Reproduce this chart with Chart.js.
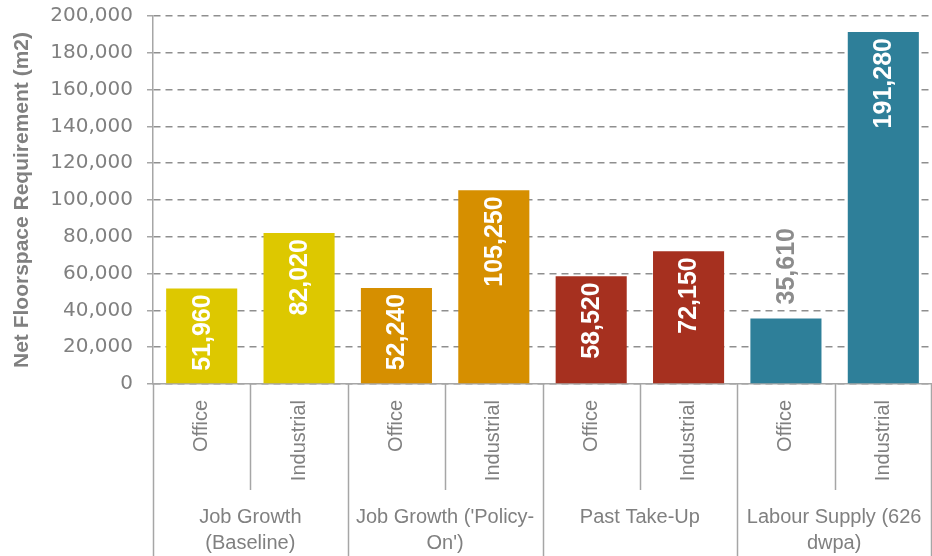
<!DOCTYPE html>
<html>
<head>
<meta charset="utf-8">
<script src="https://cdn.jsdelivr.net/npm/chart.js@4.4.1/dist/chart.umd.min.js"></script>
<style>
  html, body { margin: 0; padding: 0; background: #fff; }
  #wrap { width: 932px; height: 556px; position: relative; }
</style>
</head>
<body>
<div id="wrap"><canvas id="floorspaceChart"></canvas></div>
<script>
// Chart data
const groupLabels = [
    ['Job Growth', '(Baseline)'],
    ["Job Growth ('Policy-", "On')"],
    ['Past Take-Up'],
    ['Labour Supply (626', 'dwpa)']
];
const typeLabels = ['Office', 'Industrial'];
const floorspace = [51960, 82020, 52240, 105250, 58520, 72150, 35610, 191280];
const groupColors = ['#DDC800', '#D68F00', '#A6301F', '#2E7F99'];
const yTicks = [0, 20000, 40000, 60000, 80000, 100000, 120000, 140000, 160000, 180000, 200000];

// Build the flat category list (group x type)
const categories = [];
const barColors = [];
groupLabels.forEach((g, gi) => {
    typeLabels.forEach(t => {
        categories.push(t);
        barColors.push(groupColors[gi]);
    });
});

const textFont = '"Liberation Sans", Arial, sans-serif';
const numFont = '"DejaVu Sans", sans-serif';
const grey = '#808080';
const lineGrey = '#a6a6a6';

// Value labels on bars
const barLabels = {
    id: 'barLabels',
    afterDatasetsDraw(chart) {
        const ctx = chart.ctx;
        const meta = chart.getDatasetMeta(0);
        ctx.save();
        ctx.font = 'bold 25px ' + textFont;
        ctx.textBaseline = 'middle';
        meta.data.forEach((bar, i) => {
            const text = floorspace[i].toLocaleString('en-GB');
            const w = ctx.measureText(text).width;
            const h = bar.base - bar.y;
            ctx.save();
            ctx.translate(bar.x, bar.y);
            ctx.rotate(-Math.PI / 2);
            if (w + 14 < h) {
                ctx.fillStyle = '#ffffff';
                ctx.textAlign = 'right';
                ctx.fillText(text, -6, 1);
            } else {
                // label doesn't fit: put it above the bar on a white box
                ctx.fillStyle = '#ffffff';
                ctx.fillRect(11, -15, w + 6, 30);
                ctx.fillStyle = '#8c8c8c';
                ctx.textAlign = 'left';
                ctx.fillText(text, 14, 1);
            }
            ctx.restore();
        });
        ctx.restore();
    }
};

// Two-level category axis drawn under the plot
const multiLevelAxis = {
    id: 'multiLevelAxis',
    afterDraw(chart) {
        const ctx = chart.ctx;
        const x = chart.scales.x;
        const top = chart.chartArea.bottom;
        const bottom = chart.height;
        const n = categories.length;
        const edge = i => {
            if (i === 0) return x.left;
            if (i === n) return x.right - 1;
            return (x.getPixelForValue(i - 1) + x.getPixelForValue(i)) / 2;
        };

        ctx.save();
        ctx.strokeStyle = lineGrey;
        ctx.lineWidth = 1.5;
        for (let i = 0; i <= n; i++) {
            const isGroupEdge = i % typeLabels.length === 0;
            const px = Math.round(edge(i)) + 0.5;
            ctx.beginPath();
            ctx.moveTo(px, top);
            ctx.lineTo(px, isGroupEdge ? bottom : top + 106);
            ctx.stroke();
        }

        // Office / Industrial, rotated
        ctx.fillStyle = grey;
        ctx.font = '20px ' + textFont;
        ctx.textBaseline = 'middle';
        ctx.textAlign = 'right';
        categories.forEach((c, i) => {
            ctx.save();
            ctx.translate(x.getPixelForValue(i), top + 16);
            ctx.rotate(-Math.PI / 2);
            ctx.fillText(c, 0, 0);
            ctx.restore();
        });

        // group labels
        ctx.textAlign = 'center';
        groupLabels.forEach((lines, gi) => {
            const cx = (edge(gi * 2) + edge(gi * 2 + 2)) / 2;
            lines.forEach((line, li) => {
                ctx.fillText(line, cx, top + 133 + li * 26);
            });
        });
        ctx.restore();
    }
};

function initializeChart() {
    const ctx = document.getElementById('floorspaceChart').getContext('2d');
    return new Chart(ctx, {
        type: 'bar',
        data: {
            labels: categories,
            datasets: [{
                data: floorspace,
                backgroundColor: barColors,
                borderWidth: 0,
                categoryPercentage: 1,
                barPercentage: 0.73
            }]
        },
        options: {
            responsive: true,
            maintainAspectRatio: false,
            animation: false,
            layout: { padding: { top: 16, right: 0, left: 0, bottom: 0 } },
            plugins: {
                legend: { display: false },
                tooltip: { enabled: false }
            },
            scales: {
                x: {
                    ticks: { display: false },
                    grid: { display: false },
                    border: { display: true, color: lineGrey, width: 1.5 },
                    afterFit: s => { s.height = 172; }
                },
                y: {
                    min: 0,
                    max: 200000,
                    afterBuildTicks: s => { s.ticks = yTicks.map(v => ({ value: v })); },
                    ticks: {
                        color: grey,
                        padding: 14,
                        font: { family: numFont, size: 20 },
                        callback: v => v.toLocaleString('en-GB')
                    },
                    grid: {
                        color: '#8f8f8f',
                        lineWidth: 1.5,
                        tickLength: 6,
                        tickColor: lineGrey,
                        tickBorderDash: []
                    },
                    border: { display: true, color: lineGrey, width: 1.5, dash: [7, 5] },
                    title: {
                        display: true,
                        text: 'Net Floorspace Requirement (m2)',
                        color: grey,
                        font: { family: textFont, size: 21, weight: 'bold' },
                        padding: { top: 10, bottom: 0 }
                    },
                    afterFit: s => {
                        s.width = 153;
                        s.paddingTop = 0;
                        s.paddingBottom = 0;
                    }
                }
            }
        },
        plugins: [barLabels, multiLevelAxis]
    });
}

initializeChart();
</script>
</body>
</html>
